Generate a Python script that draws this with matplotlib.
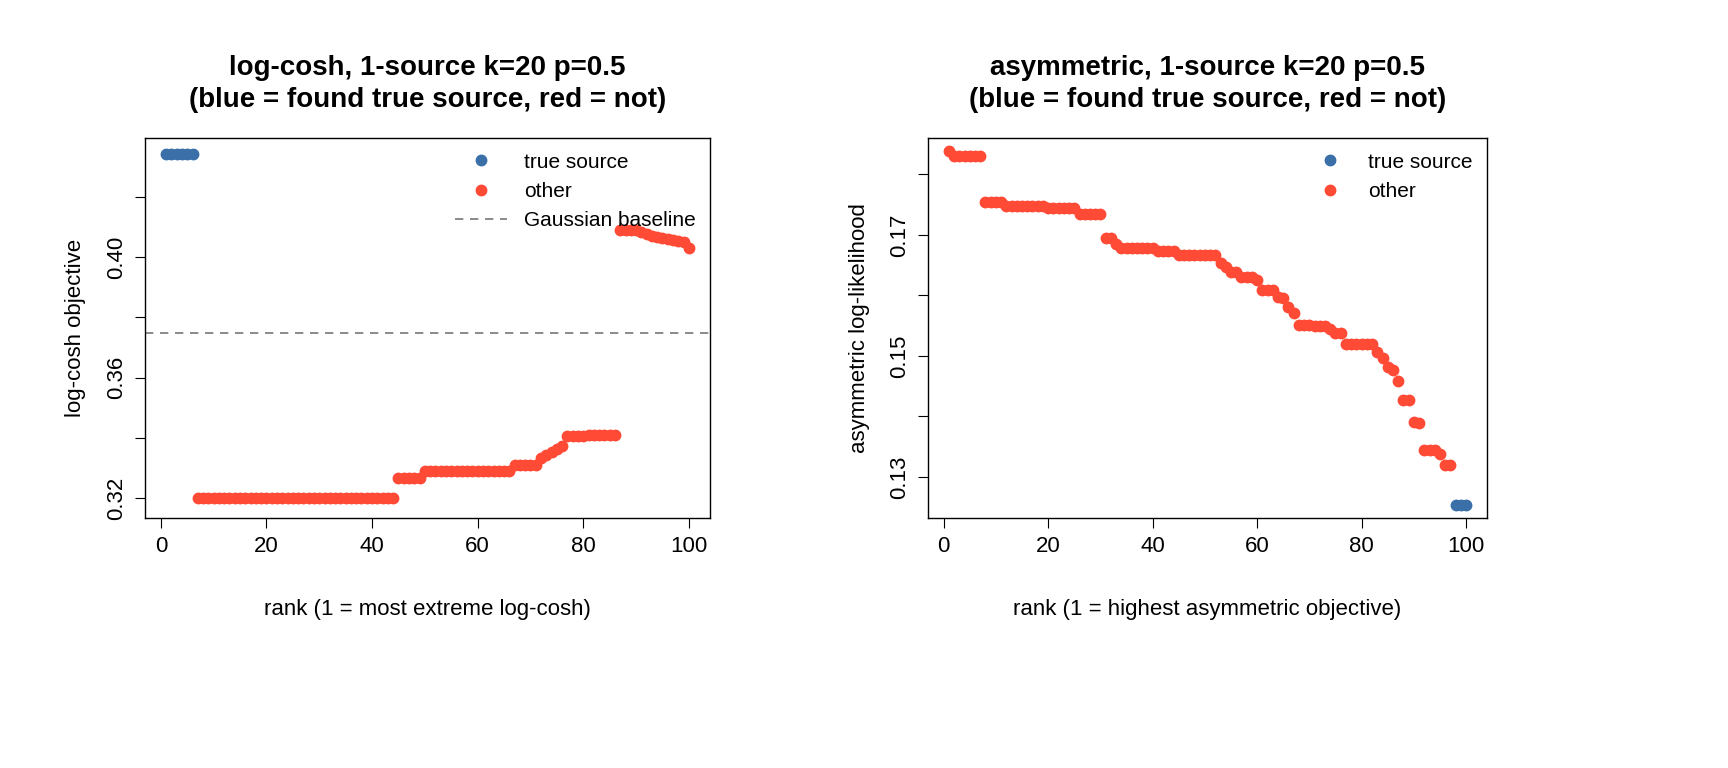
import numpy as np
import matplotlib
matplotlib.use("Agg")
import matplotlib.pyplot as plt

plt.rcParams['font.family'] = ['Liberation Sans', 'DejaVu Sans']

BLUE = '#3A6FA8'
RED = '#FF4A36'

# left panel: log-cosh objective by rank
left_levels = [0.4343, 0.3200, 0.3266, 0.3292, 0.3312, 0.3335, 0.3345, 0.3355, 0.3365, 0.3375,
               0.3407, 0.3410, 0.4089, 0.4082, 0.4076, 0.4069, 0.4066, 0.4063, 0.4059, 0.4056,
               0.4053, 0.4050, 0.4030]
left_counts = [6, 38, 5, 17, 5, 1, 1, 1, 1, 1, 4, 6, 4, 1, 1, 1, 1, 1, 1, 1, 1, 1, 1]
left_true = list(range(1, 7))
baseline = 0.3747

# right panel: asymmetric log-likelihood by rank
right_levels = [0.1839, 0.1831, 0.1754, 0.1747, 0.1744, 0.1735, 0.1695, 0.1685, 0.1678, 0.1673,
                0.1667, 0.1653, 0.1646, 0.1638, 0.1631, 0.1625, 0.1608, 0.1598, 0.1595, 0.1580,
                0.1571, 0.1551, 0.1549, 0.1544, 0.1538, 0.1519, 0.1506, 0.1496, 0.1481, 0.1477,
                0.1459, 0.1427, 0.1390, 0.1389, 0.1345, 0.1337, 0.1320, 0.1253]
right_counts = [1, 6, 4, 8, 6, 5, 2, 1, 7, 4,
                8, 1, 1, 2, 3, 1, 3, 1, 1, 1,
                1, 3, 3, 1, 2, 6, 1, 1, 1, 1,
                1, 2, 1, 1, 3, 1, 2, 3]
right_true = [98, 99, 100]

left_y = np.repeat(left_levels, left_counts)
right_y = np.repeat(right_levels, right_counts)
rank = np.arange(1, 101)


def style(ax):
    ax.tick_params(direction='out', length=7, labelsize=16, pad=6)
    ax.tick_params(axis='y', labelrotation=90)
    for lab in ax.get_yticklabels():
        lab.set_va('center')
    for s in ax.spines.values():
        s.set_linewidth(1)


def panel(ax, y, true_ranks, title, xlabel, ylabel):
    is_true = np.isin(rank, true_ranks)
    ax.plot(rank[is_true], y[is_true], 'o', color=BLUE, ms=7.5, label='true source')
    ax.plot(rank[~is_true], y[~is_true], 'o', color=RED, ms=7.5, label='other')
    ax.set_title(title, fontsize=20, fontweight='bold', pad=22, linespacing=1.3)
    ax.set_xlabel(xlabel, fontsize=16, labelpad=30)
    ax.set_ylabel(ylabel, fontsize=16, labelpad=14)
    ax.set_xticks([0, 20, 40, 60, 80, 100])


fig = plt.figure(figsize=(17.28, 7.68), dpi=100)
ax1 = fig.add_axes([145 / 1728, 1 - 518 / 768, 565 / 1728, 380 / 768])
ax2 = fig.add_axes([928 / 1728, 1 - 518 / 768, 559 / 1728, 380 / 768])

panel(ax1, left_y, left_true, 'log-cosh, 1-source k=20 p=0.5\n(blue = found true source, red = not)',
      'rank (1 = most extreme log-cosh)', 'log-cosh objective')
ax1.axhline(baseline, color='#777777', ls=(0, (5, 4)), lw=1.2, label='Gaussian baseline')
ax1.set_xlim(-3, 104)
ax1.set_ylim(0.3135, 0.4395)
ax1.set_yticks([0.32, 0.34, 0.36, 0.38, 0.40, 0.42])
ax1.set_yticklabels(['0.32', '', '0.36', '', '0.40', ''])
ax1.legend(loc='upper right', frameon=False, fontsize=15, handlelength=2.5, borderaxespad=0.3)
style(ax1)

panel(ax2, right_y, right_true, 'asymmetric, 1-source k=20 p=0.5\n(blue = found true source, red = not)',
      'rank (1 = highest asymmetric objective)', 'asymmetric log-likelihood')
ax2.set_xlim(-3, 104)
ax2.set_ylim(0.1232, 0.1860)
ax2.set_yticks([0.13, 0.14, 0.15, 0.16, 0.17, 0.18])
ax2.set_yticklabels(['0.13', '', '0.15', '', '0.17', ''])
ax2.legend(loc='upper right', frameon=False, fontsize=15, borderaxespad=0.3)
style(ax2)

fig.savefig('out.png', dpi=100)
